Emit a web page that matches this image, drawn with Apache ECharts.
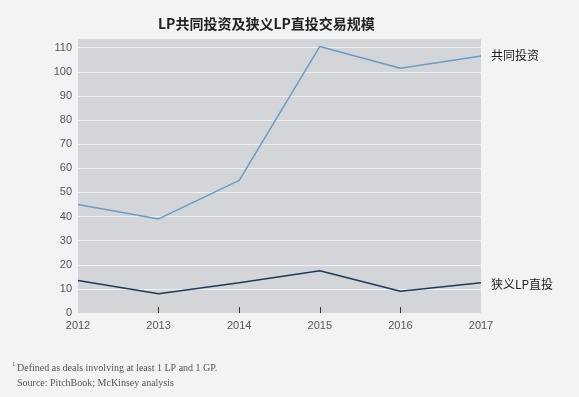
<!DOCTYPE html>
<html>
<head>
<meta charset="utf-8">
<script src="https://cdn.jsdelivr.net/npm/echarts@6/dist/echarts.min.js"></script>
<style>
  html, body { margin: 0; padding: 0; background: #f2f3f5; }
  #main { width: 579px; height: 397px; }
</style>
</head>
<body>
<div id="main"></div>
<script>
// 数据
var years = ["2012", "2013", "2014", "2015", "2016", "2017"];
var coInvest = [45, 39, 55, 110.5, 101.5, 106.5];
var directLP = [13.5, 8, 12.5, 17.5, 9, 12.5];
var yTicks = [0, 10, 20, 30, 40, 50, 60, 70, 80, 90, 100, 110];

(function() {
  var myChart = echarts.init(document.getElementById("main"));
  var cjk = "'Noto Sans CJK SC', sans-serif";

  var option = {
    backgroundColor: "#f2f3f5",
    animation: false,
    title: {
      text: "LP共同投资及狭义LP直投交易规模",
      left: 153,
      top: 12,
      textStyle: {
        fontFamily: cjk,
        fontSize: 14,
        fontWeight: "bold",
        color: "#222"
      }
    },
    grid: {
      left: 78,
      right: 98,
      top: 38,
      bottom: 84,
      show: true,
      backgroundColor: "#d4d5d9",
      borderWidth: 0
    },
    xAxis: {
      type: "category",
      boundaryGap: false,
      data: years,
      axisLine: { show: false },
      axisTick: {
        show: true,
        inside: true,
        length: 6,
        // 两端不画刻度
        interval: function(index) {
          return index > 0 && index < years.length - 1;
        },
        lineStyle: { color: "#333", width: 1 }
      },
      axisLabel: {
        color: "#555",
        fontFamily: "Liberation Sans, Arial, sans-serif",
        fontSize: 11,
        margin: 7,
        showMinLabel: true,
        showMaxLabel: true
      },
      splitLine: { show: false }
    },
    yAxis: {
      type: "value",
      min: 0,
      max: 114,
      interval: 10,
      axisLine: { show: false },
      axisTick: { show: false },
      axisLabel: {
        color: "#555",
        fontFamily: "Liberation Sans, Arial, sans-serif",
        fontSize: 11,
        margin: 6,
        formatter: function(v) {
          return yTicks.indexOf(v) >= 0 ? v : "";
        }
      },
      splitLine: {
        lineStyle: { color: "#eef0f2", width: 1 }
      }
    },
    series: [
      {
        name: "共同投资",
        type: "line",
        data: coInvest,
        symbol: "none",
        lineStyle: { color: "#6a9bc6", width: 1.5 },
        endLabel: {
          show: true,
          formatter: "{a}",
          distance: 10,
          offset: [0, -1],
          color: "#222",
          fontFamily: cjk,
          fontSize: 12
        }
      },
      {
        name: "狭义LP直投",
        type: "line",
        data: directLP,
        symbol: "none",
        lineStyle: { color: "#1b3a5c", width: 1.5 },
        endLabel: {
          show: true,
          formatter: "{a}",
          distance: 10,
          offset: [0, 2],
          color: "#222",
          fontFamily: cjk,
          fontSize: 12
        }
      }
    ],
    graphic: [
      {
        type: "text",
        left: 12,
        top: 361,
        style: {
          text: "1",
          fontFamily: "Liberation Serif, serif",
          fontSize: 7,
          fill: "#555"
        }
      },
      {
        type: "text",
        left: 17,
        top: 363,
        style: {
          text: "Defined as deals involving at least 1 LP and 1 GP.",
          fontFamily: "Liberation Serif, serif",
          fontSize: 10,
          fill: "#555"
        }
      },
      {
        type: "text",
        left: 17,
        top: 378,
        style: {
          text: "Source: PitchBook; McKinsey analysis",
          fontFamily: "Liberation Serif, serif",
          fontSize: 10,
          fill: "#555"
        }
      }
    ]
  };

  myChart.setOption(option);
  window.addEventListener("resize", function() {
    myChart.resize();
  });
})();
</script>
</body>
</html>
